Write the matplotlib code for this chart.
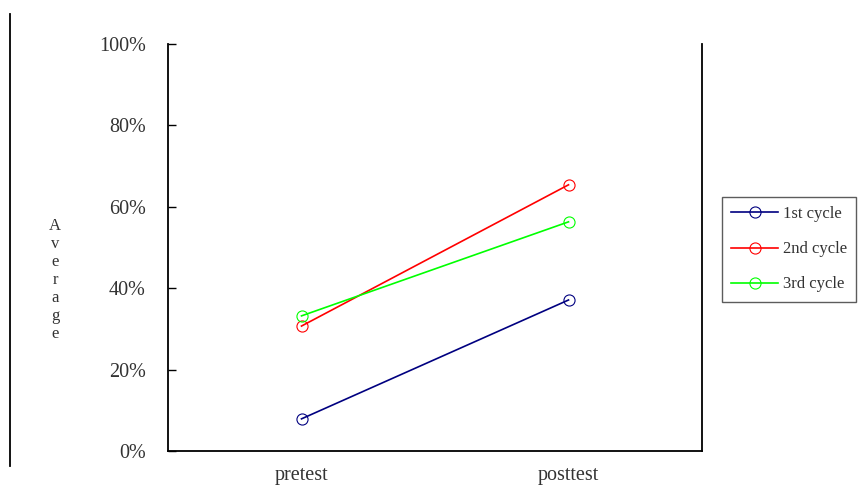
import matplotlib
matplotlib.use("Agg")
import matplotlib.pyplot as plt
from matplotlib.lines import Line2D
from matplotlib.ticker import FuncFormatter

categories = ["pretest", "posttest"]
series_names = ["1st cycle", "2nd cycle", "3rd cycle"]
cycle1 = [7.9, 37.1]
cycle2 = [30.7, 65.4]
cycle3 = [33.2, 56.3]
series_values = [cycle1, cycle2, cycle3]
colors = ["#000080", "#ff0000", "#00ff00"]
yticks = [0, 20, 40, 60, 80, 100]

plt.rcParams['font.family'] = ['Liberation Serif', 'DejaVu Serif']

fig = plt.figure(figsize=(8.59, 4.97), dpi=100)
W, H = 859, 497
ax = fig.add_axes([168 / W, 1 - 451 / H, (702 - 168) / W, (451 - 44) / H])

x = list(range(len(categories)))
for name, vals, c in zip(series_names, series_values, colors):
    ax.plot(x, vals, color=c, lw=1.2, marker='o', markersize=8,
            markerfacecolor='none', markeredgecolor=c, markeredgewidth=0.8,
            label=name)

ax.set_xlim(-0.5, 1.5)
ax.set_ylim(0, 100)
ax.set_yticks(yticks)
ax.yaxis.set_major_formatter(FuncFormatter(lambda v, p: f"{int(v)}%"))
ax.set_xticks(x)
ax.set_xticklabels(categories)
ax.tick_params(axis='y', direction='in', length=6, width=1, pad=16,
               labelsize=14.5, labelcolor='#333333')
ax.tick_params(axis='x', length=0, pad=11, labelsize=14.5, labelcolor='#333333')
ax.spines['top'].set_visible(False)
for s in ['left', 'right', 'bottom']:
    ax.spines[s].set_linewidth(1.3)

# stacked vertical y label
ylabel = "Average"
for i, ch in enumerate(ylabel):
    fig.text(55 / W, 1 - (226 + i * 18) / H, ch, ha='center', va='center',
             fontsize=12, color='#333333')

# figure frame line on the left
fig.add_artist(Line2D([10 / W, 10 / W], [1 - 14 / H, 1 - 466 / H],
                      transform=fig.transFigure, color='black', lw=1.3))

leg = fig.legend(loc='upper left', bbox_to_anchor=(722 / W, 1 - 197 / H),
                 borderaxespad=0, frameon=True, fancybox=False,
                 edgecolor='#333333', fontsize=12, handlelength=2.8,
                 labelspacing=1.15, borderpad=0.55, handletextpad=0.3)
leg.get_frame().set_linewidth(1.0)
for t in leg.get_texts():
    t.set_color('#333333')

fig.savefig("out.png", dpi=100, facecolor='white')
